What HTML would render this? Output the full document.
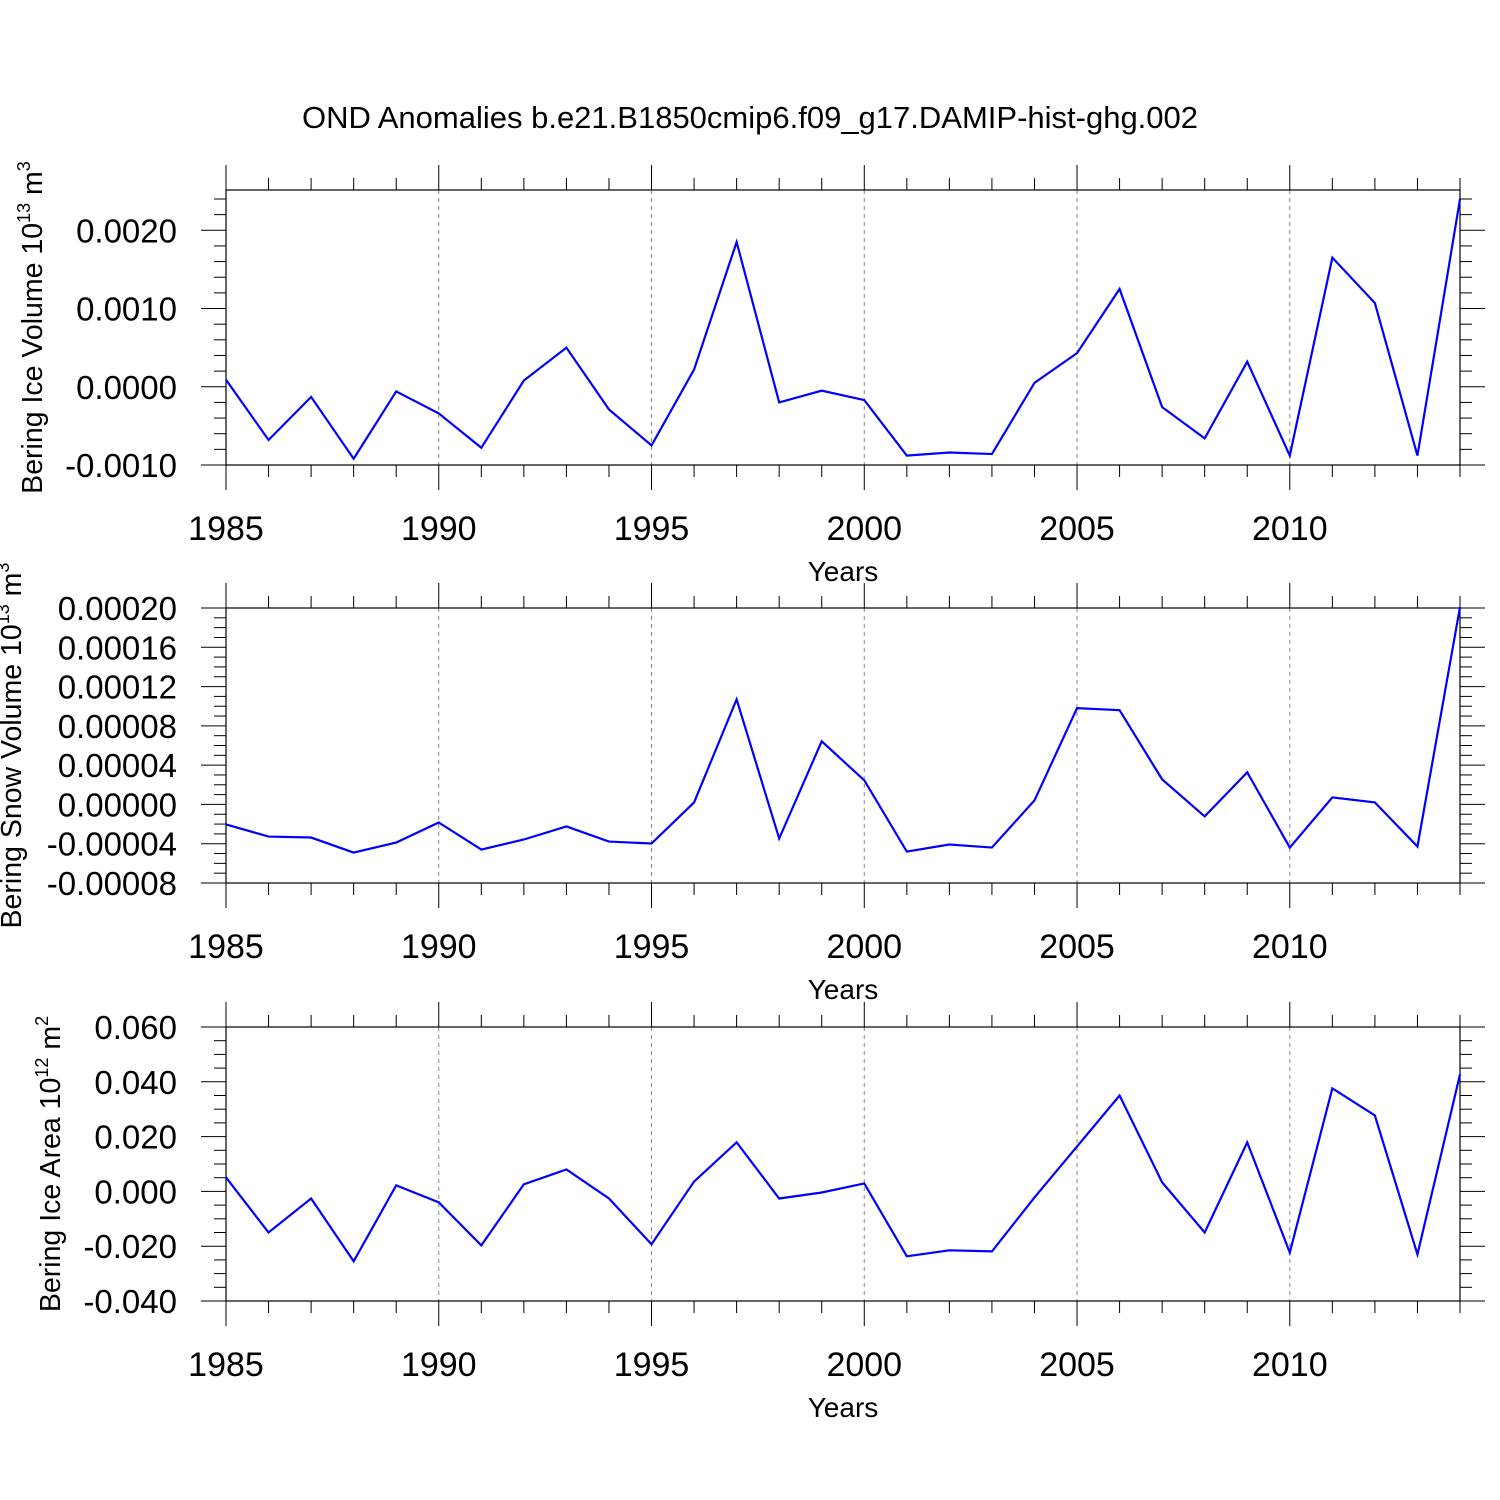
<!DOCTYPE html>
<html><head><meta charset="utf-8"><style>
html,body{margin:0;padding:0;background:#fff}
svg{display:block;font-family:"Liberation Sans",Helvetica,Arial,sans-serif}
</style></head><body>
<svg id="chart" width="1500" height="1500" viewBox="0 0 1500 1500">
<text x="750" y="128" font-size="31" text-anchor="middle">OND Anomalies b.e21.B1850cmip6.f09_g17.DAMIP-hist-ghg.002</text>
</svg>
<script>
const years = [1985,1986,1987,1988,1989,1990,1991,1992,1993,1994,1995,1996,1997,1998,1999,2000,2001,2002,2003,2004,2005,2006,2007,2008,2009,2010,2011,2012,2013,2014];
const iceVolume = [0.00009,-0.00068,-0.00013,-0.00092,-0.00006,-0.00034,-0.00078,0.00008,0.0005,-0.00029,-0.00075,0.00022,0.00185,-0.0002,-0.00005,-0.00017,-0.00088,-0.00084,-0.00086,0.00005,0.00043,0.00125,-0.00026,-0.00066,0.00032,-0.00088,0.00165,0.00107,-0.00088,0.0024];
const snowVolume = [-0.0000204,-0.0000327,-0.0000337,-0.000049,-0.0000388,-0.0000184,-0.000046,-0.0000357,-0.0000224,-0.0000378,-0.0000398,0.000002,0.000107,-0.0000347,0.0000643,0.0000245,-0.000048,-0.0000408,-0.0000439,0.0000041,0.000098,0.000096,0.0000255,-0.0000122,0.0000327,-0.0000439,0.0000071,0.000002,-0.0000429,0.000201];
const iceArea = [0.0051,-0.015,-0.0026,-0.0255,0.0022,-0.004,-0.0197,0.0026,0.008,-0.0026,-0.0193,0.0036,0.0179,-0.0026,-0.0004,0.0029,-0.0237,-0.0215,-0.0219,-0.0022,0.0164,0.035,0.0033,-0.015,0.0179,-0.0223,0.0376,0.0277,-0.023,0.0427];
const xTicks = [1985,1990,1995,2000,2005,2010];
const iceVolTicks = [-0.001,0,0.001,0.002];
const iceVolLabels = ["-0.0010","0.0000","0.0010","0.0020"];
const snowTicks = [-0.00008,-0.00004,0,0.00004,0.00008,0.00012,0.00016,0.0002];
const snowLabels = ["-0.00008","-0.00004","0.00000","0.00004","0.00008","0.00012","0.00016","0.00020"];
const areaTicks = [-0.04,-0.02,0,0.02,0.04,0.06];
const areaLabels = ["-0.040","-0.020","0.000","0.020","0.040","0.060"];

const svg = document.getElementById('chart');
const NS = 'http://www.w3.org/2000/svg';
function mk(tag, attrs, parent){const e=document.createElementNS(NS,tag);for(const k in attrs)e.setAttribute(k,attrs[k]);(parent||svg).appendChild(e);return e;}
const X0=226,X1=1460;
function xs(yr){return X0+(yr-1985)*(X1-X0)/(2014-1985);}

function panel(cfg){
  const g=mk('g',{});
  
  
  const top=cfg.top,bot=cfg.bot;
  const ys=v=>bot-(v-cfg.min)/(cfg.max-cfg.min)*(bot-top);
  xTicks.slice(1).forEach(t=>{
    const l=mk('line',{x1:xs(t),x2:xs(t),y1:top,y2:bot,stroke:'#888','stroke-width':1,'stroke-dasharray':'4,4'},g);
    
    
  });
  const b=mk('rect',{x:X0,y:top,width:X1-X0,height:bot-top,fill:'none',stroke:'#000','stroke-width':1.2},g);
  
  
  for(let yr=1985;yr<=2014;yr++){
    const major=xTicks.includes(yr);const len=major?25:12;
    mk('line',{x1:xs(yr),x2:xs(yr),y1:bot,y2:bot+len,stroke:'#000','stroke-width':1},g);
    mk('line',{x1:xs(yr),x2:xs(yr),y1:top,y2:top-len,stroke:'#000','stroke-width':1},g);
  }
  xTicks.forEach(t=>{
    const tx=mk('text',{x:xs(t),y:bot+75,'font-size':34,'text-anchor':'middle'},g);
    tx.textContent=t;
    
    
  });
  const xt=mk('text',{x:843,y:bot+116,'font-size':28,'text-anchor':'middle'},g);
  xt.textContent='Years';
  
  
  const step=cfg.ticks[1]-cfg.ticks[0], ms=step/cfg.minor;
  for(let v=cfg.min;v<=cfg.max+ms*0.01;v+=ms){
    const y=ys(v);
    const isMaj=cfg.ticks.some(t=>Math.abs(t-v)<ms*0.01);
    const len=isMaj?25:12;
    mk('line',{x1:X0-len,x2:X0,y1:y,y2:y,stroke:'#000','stroke-width':1},g);
    mk('line',{x1:X1,x2:X1+len,y1:y,y2:y,stroke:'#000','stroke-width':1},g);
  }
  cfg.ticks.forEach((t,i)=>{
    const tx=mk('text',{x:177,y:ys(t)+12,'font-size':33,'text-anchor':'end'},g);
    tx.textContent=cfg.labels[i];
    
    
  });
  const yt=mk('text',{transform:`translate(${cfg.tx},${(top+bot)/2}) rotate(-90)`,'font-size':28.5,'text-anchor':'middle'},g);
  yt.innerHTML=cfg.title+' 10<tspan font-size="18" dy="-12">'+cfg.exp+'</tspan><tspan dy="12"> m</tspan><tspan font-size="18" dy="-12">'+cfg.unitExp+'</tspan>';
  
  
  const pts=years.map((yr,i)=>xs(yr)+','+ys(cfg.data[i])).join(' ');
  const pl=mk('polyline',{points:pts,fill:'none',stroke:'#0000ff','stroke-width':2.2,'stroke-linejoin':'miter'},g);
  
  
}
panel({name:'ice-volume-panel',top:190,bot:465,min:-0.001,max:0.002515,ticks:iceVolTicks,labels:iceVolLabels,minor:5,data:iceVolume,title:'Bering Ice Volume',exp:'13',unitExp:'3',tx:42});
panel({name:'snow-volume-panel',top:608,bot:883,min:-0.00008,max:0.0002,ticks:snowTicks,labels:snowLabels,minor:4,data:snowVolume,title:'Bering Snow Volume',exp:'13',unitExp:'3',tx:21});
panel({name:'ice-area-panel',top:1027,bot:1301,min:-0.04,max:0.06,ticks:areaTicks,labels:areaLabels,minor:4,data:iceArea,title:'Bering Ice Area',exp:'12',unitExp:'2',tx:60});
</script>
</body></html>
